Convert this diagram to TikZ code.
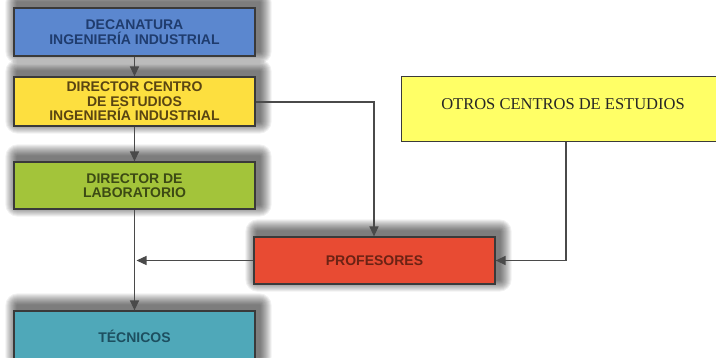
\documentclass[tikz,border=0pt]{standalone}
\usepackage{fontspec}
\setmainfont{Liberation Sans}
\newfontfamily\timesf{Liberation Serif}
\usetikzlibrary{arrows.meta,backgrounds}
\definecolor{cblue}{HTML}{5B87CF}
\definecolor{cyel}{HTML}{FDDF3F}
\definecolor{cgreen}{HTML}{A3C43A}
\definecolor{cteal}{HTML}{4FA8B9}
\definecolor{cred}{HTML}{E84B33}
\definecolor{cyel2}{HTML}{FFFF66}
\definecolor{tblue}{HTML}{1F3C6E}
\definecolor{tyel}{HTML}{5A4512}
\definecolor{tgreen}{HTML}{3C4A14}
\definecolor{tteal}{HTML}{1D4F60}
\definecolor{tred}{HTML}{6B2214}
\definecolor{edge}{HTML}{3A3A3A}
\definecolor{lnc}{HTML}{4A4A4A}
\tikzset{
  orgbox/.style={draw=edge, line width=1.2pt, minimum width=241pt, inner sep=0pt, align=center,
     font=\bfseries\fontsize{14}{14.5}\selectfont},
  conn/.style={draw=lnc, line width=1.3pt, -{Triangle[length=10pt,width=9pt]}},
  softshade/.style={fill=black, fill opacity=0.055}
}
\newcommand\softshadowof[1]{%
  \foreach \i in {1,...,12}{%
    \pgfmathsetmacro\e{13-\i}
    \fill[softshade, rounded corners=\e pt]
      ([xshift=4pt-\e pt, yshift=5pt-\e pt]#1.south west) rectangle
      ([xshift=4pt+\e pt, yshift=5pt+\e pt]#1.north east);
  }}
\begin{document}
\begin{tikzpicture}[x=1pt,y=-1pt]
\useasboundingbox (0,0) rectangle (716,358);
\node[orgbox, fill=cblue, text=tblue, minimum height=48pt] (dec) at (134.5,32) {DECANATURA\\INGENIERÍA INDUSTRIAL};
\node[orgbox, fill=cyel, text=tyel, minimum height=49pt] (dir) at (134.5,101.5) {DIRECTOR CENTRO\\DE ESTUDIOS\\INGENIERÍA INDUSTRIAL};
\node[orgbox, fill=cgreen, text=tgreen, minimum height=47pt] (lab) at (134.5,185.5) {DIRECTOR DE\\LABORATORIO};
\node[orgbox, fill=cteal, text=tteal, minimum height=50pt] (tec) at (134.5,336) {TÉCNICOS};
\node[orgbox, fill=cred, text=tred, minimum height=47pt] (prof) at (374.5,260.5) {PROFESORES};
\node[draw=edge, line width=1pt, fill=cyel2, minimum width=318pt, minimum height=65pt, inner sep=0pt] (otros) at (560,109.5) {};
\node[font=\timesf\fontsize{16.5}{18}\selectfont, text=black!85] (otrost) at (563,104) {OTROS CENTROS DE ESTUDIOS};
\begin{scope}[on background layer]
  \fill[white] (0,0) rectangle (716,358);
  \softshadowof{dec}
  \softshadowof{dir}
  \softshadowof{lab}
  \softshadowof{tec}
  \softshadowof{prof}
\end{scope}
\coordinate (j) at (134.5,260.5);
\draw[conn] (dec) -- (dir);
\draw[conn] (dir) -- (lab);
\draw[conn] (lab) -- (tec);
\draw[conn] (prof.west) -- ([xshift=2pt]j);
\draw[conn] (dir.east |- 0,102) -| (prof.north -| 374,0);
\draw[conn] (otros.south -| 566,0) |- (prof.east);
\end{tikzpicture}
\end{document}
